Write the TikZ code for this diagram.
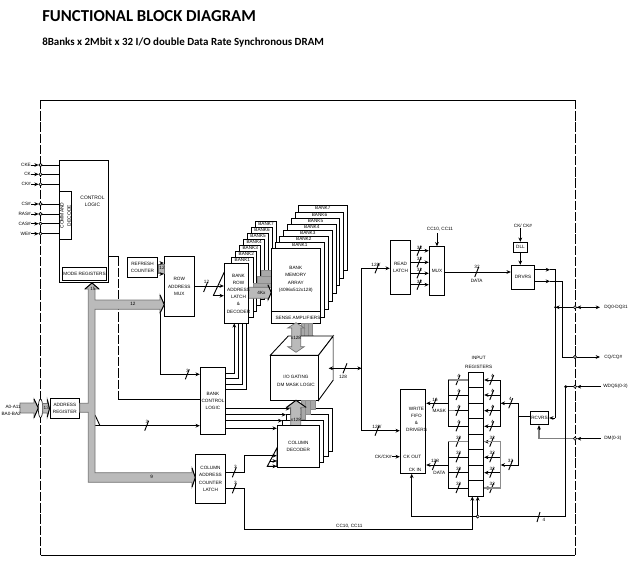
\documentclass[tikz,border=0pt]{standalone}
\usepackage{fontspec}
\setmainfont{Liberation Sans}
\newfontfamily\headfont{Carlito}
\usetikzlibrary{arrows.meta,shapes.geometric}
\definecolor{busgray}{HTML}{BABABA}
\definecolor{stepgray}{HTML}{A8A8A8}
\newcounter{wsl}
\newcommand\mkblk[6]{%
  \pgfmathsetmacro\bw{(#4-#2)*0.75}\pgfmathsetmacro\bh{(#5-#3)*0.75}%
  \node[blockbox,minimum width=\bw pt,minimum height=\bh pt] (#1) at ({(#2+#4)/2},{(#3+#5)/2}) {#6};}
\newcommand\wslash[5]{% x y labelx labely text
  \stepcounter{wsl}%
  \draw[wire] (#1-2,#2+5) -- (#1+2,#2-5);
  \node[txt] (sl\thewsl) at (#3,#4) {#5};}
\tikzset{
  >={Stealth[length=3.2pt,width=2.8pt]},
  wire/.style={line width=0.7pt,black},
  txt/.style={font=\fontsize{3.5}{5}\selectfont,inner sep=0pt,align=center,text=black},
  blockbox/.style={draw=black,line width=0.75pt,fill=white,inner sep=0pt,align=center,font=\fontsize{3.5}{5.4}\selectfont},
  pinc/.style={circle,draw=black,fill=white,line width=0.45pt,inner sep=0pt,minimum size=2.4pt},
  frm/.style={line width=0.75pt,black},
  dashy/.style={line width=0.75pt,dash pattern=on 7pt off 1.4pt},
  bus/.style={fill=busgray,draw=black!55,line width=0.5pt},
  stepf/.style={fill=stepgray,draw=black!45,line width=0.3pt},
}
\begin{document}
\begin{tikzpicture}[x=0.75pt,y=-0.75pt]
\useasboundingbox (0,0) rectangle (636,575);
% titles
\node[anchor=base west,inner sep=0pt,font=\headfont\bfseries\fontsize{12.55}{14}\selectfont] (title) at (42,21) {FUNCTIONAL BLOCK DIAGRAM};
\node[anchor=base west,inner sep=0pt,font=\headfont\bfseries\fontsize{8.2}{10}\selectfont] (subtitle) at (42,45) {8Banks x 2Mbit x 32 I/O double Data Rate Synchronous DRAM};
% frame
\draw[frm] (40.5,100) -- (575,100);
\draw[frm] (40.5,555) -- (575,555);
\draw[dashy] (40.5,100) -- (40.5,555);
\draw[dashy] (575,100) -- (575,555);
% control logic
\mkblk{ctl}{59.3}{160.3}{108.3}{282.3}{}
\node[txt,font=\fontsize{3.7}{5.4}\selectfont] (ctlt) at (92.5,201.5) {CONTROL\\LOGIC};
\mkblk{cmd}{59.3}{191.7}{71.5}{239.3}{}
\node[txt,rotate=90,font=\fontsize{3.7}{5.4}\selectfont] (cmdt) at (65.5,215.5) {COMMAND\\DECODE};
\mkblk{mode}{62.3}{267.3}{106.7}{280.3}{MODE REGISTERS}
% left pins
\foreach \nm/\lb/\yy in {a/CKE/165,b/CK/174.3,c/CK\#/184.3,d/CS\#/204,e/RAS\#/214,f/CAS\#/223.7,g/WE\#/233.7}{
  \node[txt,anchor=east] (lab\nm) at (31,\yy) {\lb};
  \node[pinc] (pin\nm) at (40.5,\yy) {};
  \draw[wire,->] (lab\nm.east) -- (pin\nm.west);
  \draw[wire] (pin\nm.east) -- (ctl.west |- pin\nm);
}
% refresh, mux
\mkblk{refr}{127.3}{257.3}{157.7}{277.3}{REFRESH\\COUNTER}
\mkblk{rmux}{164.3}{256.7}{194.3}{316.3}{ROW\\ADDRESS\\MUX}
\fill[busgray,draw=black!55,line width=0.3pt] (refr.east |- 0,264) rectangle (164.3,273);
\node[txt] (r12) at (162,268) {12};
\draw[wire,->] (160.5,263) -- (rmux.west |- 0,263);
\draw[wire,->] (160.5,274) -- (rmux.west |- 0,274);
% address register
\mkblk{areg}{50}{398.7}{79.7}{418.3}{ADDRESS\\REGISTER}
% dashed control to bank
\mkblk{bank}{200.3}{367.3}{225.7}{434.3}{BANK\\CONTROL\\LOGIC}
\mkblk{clat}{195.3}{454.3}{225.7}{503.3}{COLUMN\\ADDRESS\\COUNTER\\LATCH}
\draw[wire] (ctl.east |- 0,256.3) -- (118.3,256.3);
\draw[dashy] (118.3,256.3) -- (118.3,399.3);
\draw[wire] (118.3,399.3) -- (bank.west |- 0,399.3);
\draw[wire,->] (160.3,313) -- (160.3,374.3) -- (bank.west |- 0,374.3);
\wslash{187.3}{374.3}{187.5}{371}{3}
\draw[wire] (95,415) -- (100,425.7);
\draw[wire,->] (95,425.7) -- (bank.west |- 0,425.7);
\wslash{146.7}{425.7}{147}{421.5}{3}
% address bus
\draw[bus] (92,283) -- (99,289) -- (95,289) -- (95,300) -- (160,300) -- (160,295) -- (164.3,304.6) -- (160,313) -- (160,309.3) -- (95,309.3) -- (95,472.7) -- (192,472.7) -- (192,468) -- (195.3,477.5) -- (192,487) -- (192,482.3) -- (88.3,482.3) -- (88.3,412.3) -- (79.7,412.3) -- (79.7,403.3) -- (88.3,403.3) -- (88.3,289) -- (85,289) -- cycle;
\draw[wire] (85,289) -- (92,283) -- (99,289);
\draw[wire] (160,295) -- (164.3,304.6) -- (160,313);
\draw[wire] (192,468) -- (195.3,477.5) -- (192,487);
\node[txt] (b15) at (93,289) {15};
\node[txt] (b12) at (133,304) {12};
\node[txt] (b9) at (151.7,477) {9};
% address input
\draw[bus] (20,403) -- (34,403) -- (34,399) -- (38.3,408) -- (34,417.7) -- (34,413) -- (20,413) -- cycle;
\draw[wire] (34,399) -- (38.3,408) -- (34,417.7);
\node[draw=black,fill=white,ellipse,line width=0.45pt,inner sep=0pt,minimum width=3.3pt,minimum height=14pt] (pinaddr) at (40.5,408.3) {};
\draw[bus] (42.7,403.5) -- (47.3,403.5) -- (47.3,399.5) -- (areg.west) -- (47.3,417) -- (47.3,413) -- (42.7,413) -- cycle;
\draw[wire] (47.3,399.5) -- (areg.west) -- (47.3,417);
\node[txt] (a13) at (46.3,408.3) {13};
\node[txt,anchor=east] (laba) at (21,407) {A0-A11};
\node[txt,anchor=east] (labba) at (21,414) {BA0-BA2};
% row latch stack
\foreach \k/\lb in {7/BANK7,6/BANK6,5/BANK5,4/BANK4,3/BANK3,2/BANK2,1/BANK1}{
  \pgfmathsetmacro\xa{231.7+3.94*(\k-1)}
  \pgfmathsetmacro\xb{253+3.94*(\k-1)}
  \pgfmathsetmacro\ya{257.3-5.94*(\k-1)}
  \pgfmathsetmacro\yb{317.3-6*(\k-1)}
  \mkblk{rs\k}{\xa}{\ya}{\xb}{\yb}{}
  \node[txt,anchor=north,yshift=-0.6pt] (rst\k) at (rs\k.north) {\lb};
}
% gray row arrows
\fill[stepf] (260.7,270) rectangle (271.3,276);
\fill[stepf] (256.7,276) rectangle (271.3,282.7);
\fill[stepf] (253,282.7) rectangle (271.3,287.3);
\draw[bus] (248.3,287.3) -- (268,287.3) -- (268,285) -- (271.3,292.5) -- (268,300) -- (268,298.3) -- (248.3,298.3) -- cycle;
\draw[wire] (268,285) -- (271.3,292.5) -- (268,300);
\node[txt] (r4k) at (261.5,292.8) {4Kx};
% memory stack
\foreach \k/\xa/\ya/\xb/\yb in {7/298.3/205.3/347.3/270,6/295.3/212.3/343.7/278,5/291.3/218.3/339.7/285.7,4/287.3/224.3/336.3/293.7,3/283.3/230.3/332.3/301.7,2/279.3/236.3/328.3/309.3,1/275.3/242.3/324.3/317.3}{
  \mkblk{ms\k}{\xa}{\ya}{\xb}{\yb}{}
  \node[txt,anchor=north,yshift=-0.6pt] (mst\k) at (ms\k.north) {BANK\k};
}
\mkblk{mem}{271.3}{248.7}{320.3}{323.3}{}
\node[txt,font=\fontsize{3.5}{5.6}\selectfont] (memt) at (295.8,279.5) {BANK\\MEMORY\\ARRAY\\(4096x512x128)};
\draw[wire] (mem.west |- 0,311.7) -- (mem.east |- 0,311.7);
\node[txt] (sense) at (298,317.5) {SENSE AMPLIFIERS};
% row latch front
\mkblk{rlat}{224.3}{263.3}{248.3}{323.3}{}
\node[txt,font=\fontsize{3.5}{5.4}\selectfont] (rlatt) at (238.5,293.5) {BANK\\ROW\\ADDRESS\\LATCH\\\&\\DECODER};
% row mux to latch
\draw[wire,->] (rmux.east |- 0,286) -- (rlat.west |- 0,286);
\wslash{205.6}{287}{206.5}{281.5}{12}
\draw[wire] (213.3,295.7) -- (224.3,272);
\draw[wire,->] (213.3,295.7) -- (rlat.west |- 0,295.7);
% bank to row latch
\draw[wire,->] (bank.east |- 0,373.3) -- (234.3,373.3) -- (234.3,323.3);
\draw[wire] (bank.east |- 0,378.3) -- (238.3,378.3) -- (238.3,323.3);
\draw[wire] (bank.east |- 0,384) -- (242.7,384) -- (242.7,323.3);
\draw[wire] (bank.east |- 0,389.3) -- (246.7,389.3) -- (246.7,323.3);
% IO gating cube
\draw[stepf] (300.7,323.3) rectangle (304.5,345);
\draw[stepf] (304.5,323.3) rectangle (308.5,341);
\draw[stepf] (308.5,323.3) rectangle (312,337);
\draw[wire] (300.7,350) -- (306,345) (304.5,345) -- (310,341) (308.5,341) -- (314,336);
\draw[fill=white,line width=0.65pt] (270.3,355.3) -- (288.3,336) -- (333.3,336) -- (318.5,355.3) -- cycle;
\draw[fill=white,line width=0.65pt] (318.5,355.3) -- (333.3,336) -- (333.3,380) -- (318.5,400.3) -- cycle;
\draw[black!40,line width=1.1pt] (333.5,336) -- (333.5,380);
\mkblk{iog}{270.3}{355.3}{318.5}{400.3}{}
\node[txt,font=\fontsize{3.5}{6}\selectfont] (iogt) at (296,381) {I/O GATING\\DM MASK LOGIC};
\draw[bus] (296,322.7) -- (304.3,328) -- (300.7,328) -- (300.7,346.7) -- (304.3,346.7) -- (296,352.3) -- (287.7,346.7) -- (291.7,346.7) -- (291.7,328) -- (287.7,328) -- cycle;
\node[txt] (g128) at (296,337.5) {x128};
% column decoder
\mkblk{cd3}{290}{408.7}{332.7}{451.3}{}
\mkblk{cd2}{286}{414.3}{328}{456.7}{}
\mkblk{cd1}{282.3}{420.3}{323.7}{462}{}
\draw[stepf] (310,400.3) rectangle (315,408.7);
\draw[stepf] (305,400.3) rectangle (310,413.7);
\draw[stepf] (300.7,400.3) rectangle (305,419.3);
\draw[bus] (296,400.3) -- (306,407.3) -- (300.7,407.3) -- (300.7,426) -- (290.7,426) -- (290.7,407.3) -- (286.7,407.3) -- cycle;
\draw[wire] (286.7,407.3) -- (296,400.3) -- (306,407.3);
\node[txt] (c128) at (296,419.5) {x128};
\mkblk{cdec}{277.3}{425.3}{319.3}{467.3}{COLUMN\\DECODER}
\draw[wire,->] (bank.east |- 0,408.7) -- (290,408.7);
\draw[wire,->] (bank.east |- 0,414.7) -- (286,414.7);
\draw[wire,->] (bank.east |- 0,420.7) -- (282.3,420.7);
\draw[wire,->] (bank.east |- 0,428.3) -- (cdec.west |- 0,428.3);
% column latch outputs
\draw[wire] (267.3,466.3) -- (cdec.west |- 0,466.3) -- (277.3,447.3) -- cycle;
\draw[wire,->] (clat.east |- 0,472.3) -- (244.3,472.3) -- (244.3,455.7) -- (cdec.west |- 0,455.7);
\draw[wire,->] (270,461) -- (cdec.west |- 0,461);
\draw[wire,->] (270,466.3) -- (cdec.west |- 0,466.3);
\wslash{234.3}{472.3}{235.5}{467}{3}
\wslash{234.3}{488.3}{235.5}{483}{3}
% right part
\mkblk{rlt}{390.3}{240.7}{410.7}{294.3}{READ\\LATCH}
\mkblk{mux}{429.3}{246.3}{444.7}{295.3}{MUX}
\foreach \yy in {250.7,262.3,273.3,284.7}{
  \draw[wire,->] (rlt.east |- 0,\yy) -- (mux.west |- 0,\yy);
  \pgfmathsetmacro\lly{\yy-3}
  \wslash{419}{\yy}{419.5}{\lly}{32}
}
\node[txt] (cc) at (440,229) {CC10, CC11};
\draw[wire,->] (437,233.3) -- (437,246.3);
\mkblk{drv}{511.3}{265.3}{534.7}{289.3}{DRVRS}
\mkblk{dll}{513.3}{242.3}{527.7}{252.3}{DLL}
\node[txt] (ckd) at (523,225.7) {CK/ CK\#};
\draw[wire,->] (520.3,228) -- (dll.north -| 520.3,0);
\draw[wire,->] (dll.south -| 520.3,0) -- (drv.north -| 520.3,0);
\draw[wire,->] (mux.east |- 0,272) -- (drv.west |- 0,272);
\wslash{476.7}{272}{477}{266.5}{32}
\node[txt] (datat) at (476.7,280.7) {DATA};
\draw[wire,<->] (328.7,368.3) -- (361.7,368.3);
\wslash{345}{368.3}{343}{377}{128}
\draw[wire,->] (361.7,268.3) -- (rlt.west |- 0,268.3);
\wslash{377}{268.3}{376}{264.5}{128/}
\draw[wire] (361.7,268.3) -- (361.7,430.7);
% pins right
\node[pinc] (pDQ) at (575,307.3) {};
\node[pinc] (pCQ) at (575,357) {};
\node[pinc] (pWD) at (575,386.7) {};
\node[pinc] (pDM) at (575,438.7) {};
\node[txt,anchor=west] (lDQ) at (604,307.3) {DQ0-DQ31};
\node[txt,anchor=west] (lCQ) at (604,357.5) {CQ/CQ\#};
\node[txt,anchor=west] (lWD) at (603,386.7) {WDQS(0-3)};
\node[txt,anchor=west] (lDM) at (604,438.7) {DM(0-3)};
\draw[wire,->] (drv.east |- 0,269.7) -- (550,269.7);
\draw[wire] (550,269.7) -- (555.3,269.7) -- (555.3,418);
\draw[wire,->] (drv.east |- 0,281.3) -- (550,281.3);
\draw[wire] (550,281.3) -- (562.7,281.3) -- (562.7,357) -- (pCQ.west);
\draw[wire,->] (pCQ.east) -- (600,357);
\draw[wire,->] (pDQ.east) -- (600,307.3);
\draw[wire,->] (pDQ.west) -- (555.3,307.3);
\draw[wire,<-] (pDQ.east) -- (580,307.3);
% input registers
\node[txt,font=\fontsize{3.5}{6.2}\selectfont] (inreg) at (478.7,362.5) {INPUT\\REGISTERS};
\mkblk{ireg}{468.3}{372.7}{483.7}{496}{}
\foreach \yy in {387.7,403.3,418.3,434.3,449.7,465.3,480.3}{\draw[wire] (ireg.west |- 0,\yy) -- (ireg.east |- 0,\yy);}
\foreach \yy/\tv in {380/4,395/4,410.7/4,426.3/4,441.7/32,457.3/32,472.7/32,488/32}{
  \draw[wire] (448.3,\yy) -- (ireg.west |- 0,\yy);
  \draw[wire,->] (500.7,\yy) -- (ireg.east |- 0,\yy);
  \pgfmathsetmacro\lly{\yy-4}
  \wslash{458}{\yy}{458.7}{\lly}{\tv}
  \wslash{491.7}{\yy}{492.3}{\lly}{\tv}
}
\draw[black!45,line width=0.9pt] (448.3,380) -- (468,380);
\draw[black!45,line width=0.9pt] (448.3,410.7) -- (455,410.7);
\draw[black!45,line width=0.9pt] (448.3,441.7) -- (468,441.7);
\draw[black!45,line width=0.9pt] (483.7,441.7) -- (500.7,441.7) -- (500.7,488) -- (483.7,488);
\draw[wire] (448.3,380) -- (448.3,426.3);
\draw[wire] (448.3,441.7) -- (448.3,488);
\draw[wire] (500.7,380) -- (500.7,426.3);
% write fifo
\mkblk{wf}{400.3}{389.3}{425.7}{473.3}{}
\node[txt,font=\fontsize{3.5}{5.4}\selectfont] (wft) at (416.5,419.5) {WRITE\\FIFO\\\&\\DRIVERS};
\node[txt] (ckout) at (412.3,456.7) {CK OUT};
\node[txt] (ckin) at (415,470) {CK IN};
\draw[wire,->] (361.7,430.7) -- (wf.west |- 0,430.7);
\wslash{377}{430.7}{377}{426.5}{128/}
\node[txt,anchor=east] (ckl) at (392,456.7) {CK/CK\#};
\draw[wire,->] (ckl.east) -- (wf.west |- ckl);
\draw[wire,->] (448.3,403.3) -- (wf.east |- 0,403.3);
\wslash{434.3}{403.3}{435}{399.5}{16}
\node[txt] (mask) at (439.3,410.7) {MASK};
\draw[wire,->] (448.3,465) -- (wf.east |- 0,465);
\wslash{434.3}{465}{435}{461.2}{128}
\node[txt] (data2) at (439.3,472.7) {DATA};
% receivers
\mkblk{rcv}{530.3}{411.3}{548.7}{424.7}{RCVRS}
\draw[wire,->] (555.3,418) -- (rcv.east |- 0,418);
\draw[wire] (rcv.west |- 0,416.3) -- (518.7,416.3);
\draw[wire,->] (518.7,403.3) -- (500.7,403.3);
\draw[wire,->] (518.7,465) -- (500.7,465);
\draw[wire] (518.7,403.3) -- (518.7,465);
\wslash{510.7}{403.3}{510.5}{399.3}{4}
\wslash{510.7}{465}{510.5}{460.5}{32}
\draw[black!50,line width=0.8pt] (pDM.west) -- (539,438.7) -- (539,428);
\draw[wire,->] (539,430) -- (rcv.south -| 539,0);
\draw[wire,<-] (pDM.east) -- (601,438.7);
\draw[wire,<-] (pWD.east) -- (601,386.7);
\draw[wire] (pWD.west) -- (565.7,386.7);
\fill (565.7,386.7) circle (1.6);
\fill (555.3,307.3) circle (1.2);
% strobe bus
\node[pinc] (dotb) at (477.7,516.5) {};
\draw[wire] (dotb.east) -- (565.7,516.5) -- (565.7,386.7);
\draw[wire,->] (dotb.west) -- (411.7,516.5) -- (wf.south -| 411.7,0);
\draw[wire,->] (dotb.north) -- (ireg.south -| 477.7,0);
\draw[wire] (540,512) -- (537,522);
\node[txt] (n4) at (544,520) {4};
\draw[wire,->] (clat.east |- 0,488.3) -- (244.3,488.3) -- (244.3,529.3) -- (472.3,529.3) -- (ireg.south -| 472.3,0);
\node[txt] (ccb) at (349.3,526.5) {CC10, CC11};
\end{tikzpicture}
\end{document}
